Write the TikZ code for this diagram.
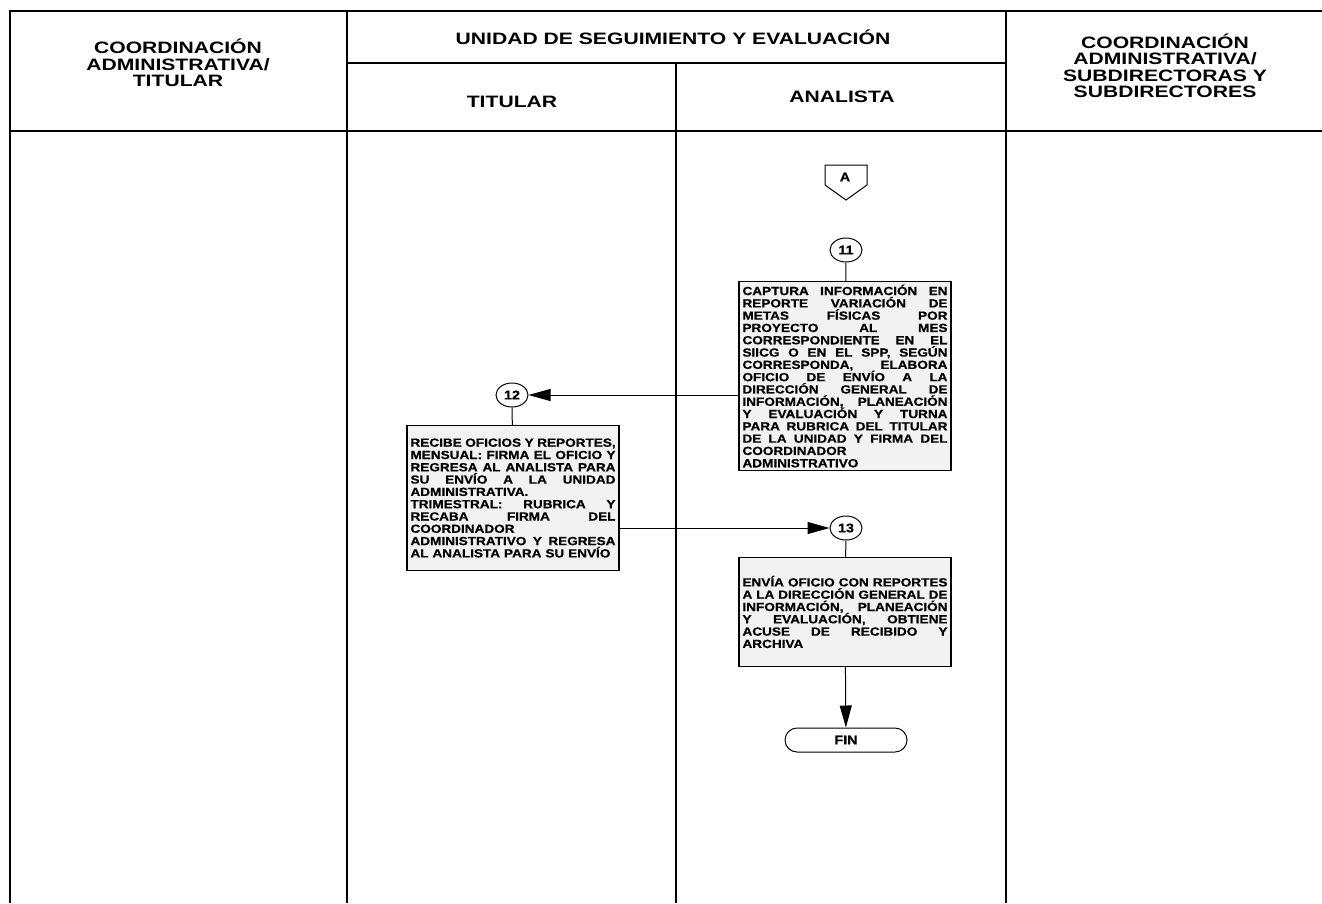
\documentclass[tikz,border=0pt]{standalone}
\usepackage{fontspec}
\setmainfont{Liberation Sans}
\newfontfamily\encfont{Liberation Sans}[FakeStretch=1.28]
\newfontfamily\cajafont{Liberation Sans}[FakeStretch=1.15,FakeBold=0.6]
\usetikzlibrary{arrows.meta,positioning,shapes.geometric}
\newcommand{\lin}[1]{\leavevmode\hbox to 205pt{\spaceskip=.3em plus 1fil\relax #1}\\}

\begin{document}
\begin{tikzpicture}[x=1pt,y=-1pt,
    carril/.style={line width=1.3pt},
    enc/.style={font=\encfont\bfseries\fontsize{16.5}{16.5}\selectfont, align=center, inner sep=0pt},
    caja/.style={draw, line width=1.1pt, fill=black!5, minimum width=212pt, text width=205pt,
      inner sep=0pt, align=left, font=\cajafont\bfseries\fontsize{11.8}{12.3}\selectfont},
    num/.style={draw, ellipse, line width=1pt, minimum width=32pt, minimum height=24pt,
      inner sep=0pt, font=\cajafont\bfseries\fontsize{12.5}{12.5}\selectfont},
    fin/.style={draw, line width=1pt, rounded corners=12pt, minimum width=122pt,
      minimum height=24pt, inner sep=0pt, font=\cajafont\bfseries\fontsize{12.5}{12.5}\selectfont},
    linea/.style={line width=1pt},
    flecha/.style={linea, -{Triangle[length=22pt,width=12pt]}}]
  \useasboundingbox (0,0) rectangle (1322,903);
  % carriles
  \draw[carril] (10,903) -- (10,11) -- (1322,11);
  \draw[carril] (10,131) -- (1322,131);
  \draw[carril] (347,903) -- (347,11);
  \draw[carril] (676,903) -- (676,63);
  \draw[carril] (1006,903) -- (1006,11);
  \draw[carril] (347,63) -- (1006,63);
  % encabezados
  \node[enc] (cadm) at (178,63) {COORDINACIÓN\\ADMINISTRATIVA/\\TITULAR};
  \node[enc] (unid) at (673,37) {UNIDAD DE SEGUIMIENTO Y EVALUACIÓN};
  \node[enc] (titu) at (512,102) {TITULAR};
  \node[enc] (anal) at (842,97) {ANALISTA};
  \node[enc] (csub) at (1165,66) {COORDINACIÓN\\ADMINISTRATIVA/\\SUBDIRECTORAS Y\\SUBDIRECTORES};
  % conector A
  \node[font=\cajafont\bfseries\fontsize{12.5}{12.5}\selectfont, inner sep=0pt] (conA) at (845,177) {A};
  \draw[linea] (825,165) -- (867,165) -- (867,185) -- (846,200) -- (825,185) -- cycle;
  % actividades
  \node[num] (n11) at (846,250) {11};
  \node[caja, minimum height=189pt] (b11) at (845,376) {%
    \lin{CAPTURA INFORMACIÓN EN}
    \lin{REPORTE VARIACIÓN DE}
    \lin{METAS FÍSICAS POR}
    \lin{PROYECTO AL MES}
    \lin{CORRESPONDIENTE EN EL}
    \lin{SIICG O EN EL SPP, SEGÚN}
    \lin{CORRESPONDA, ELABORA}
    \lin{OFICIO DE ENVÍO A LA}
    \lin{DIRECCIÓN GENERAL DE}
    \lin{INFORMACIÓN, PLANEACIÓN}
    \lin{Y EVALUACIÓN Y TURNA}
    \lin{PARA RUBRICA DEL TITULAR}
    \lin{DE LA UNIDAD Y FIRMA DEL}
    COORDINADOR\\
    ADMINISTRATIVO};
  \node[num] (n12) at (512,395) {12};
  \node[caja, minimum height=145pt] (b12) at (513,498) {%
    \lin{RECIBE OFICIOS Y REPORTES,}
    \lin{MENSUAL: FIRMA EL OFICIO Y}
    \lin{REGRESA AL ANALISTA PARA}
    \lin{SU ENVÍO A LA UNIDAD}
    ADMINISTRATIVA.\\
    \lin{TRIMESTRAL: RUBRICA Y}
    \lin{RECABA FIRMA DEL}
    COORDINADOR\\
    \lin{ADMINISTRATIVO Y REGRESA}
    AL ANALISTA PARA SU ENVÍO};
  \node[num] (n13) at (846,528) {13};
  \node[caja, minimum height=109pt] (b13) at (845,612) {%
    \lin{ENVÍA OFICIO CON REPORTES}
    \lin{A LA DIRECCIÓN GENERAL DE}
    \lin{INFORMACIÓN, PLANEACIÓN}
    \lin{Y EVALUACIÓN, OBTIENE}
    \lin{ACUSE DE RECIBIDO Y}
    ARCHIVA};
  \node[fin] (fin) at (846,740) {FIN};
  % conexiones
  \draw[linea] (n11) -- (b11);
  \draw[flecha] (b11.west |- n12) -- (n12);
  \draw[linea] (n12) -- (b12);
  \draw[flecha] (b12.east |- n13) -- (n13);
  \draw[linea] (n13) -- (b13);
  \draw[flecha] (b13) -- (fin);
\end{tikzpicture}
\end{document}
